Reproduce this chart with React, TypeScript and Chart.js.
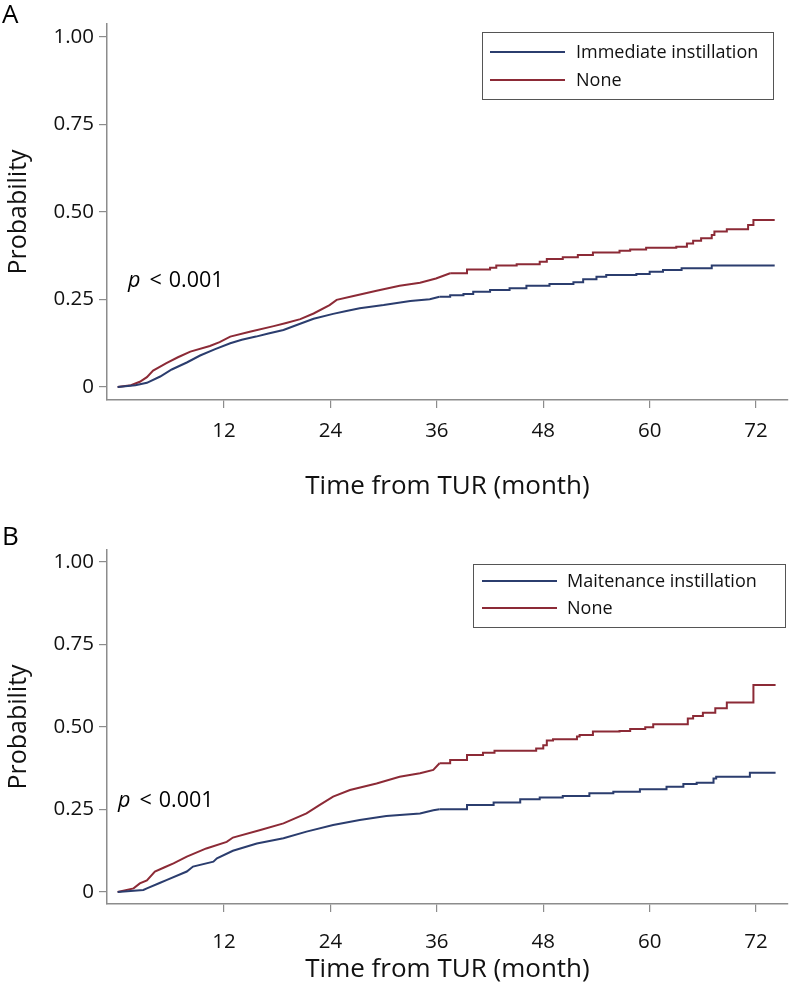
import React, { useEffect, useRef } from "react";
import { Chart, registerables } from "chart.js";
Chart.register(...registerables);

const FONT = '"Open Sans", "Noto Sans", sans-serif';
const BLUE = "#2b3d6e";
const RED = "#8c2a36";
const AXIS = "#8c8c8c";

const xTicks = [12, 24, 36, 48, 60, 72];
const yTicks = [0, 0.25, 0.5, 0.75, 1];
const xTitle = "Time from TUR (month)";
const yTitle = "Probability";
const pLess = "<";
const pValue = "0.001";

// Panel A
const aLabels = ["Immediate instillation", "None"];
const aImmT = [0, 2, 3.3, 4.8, 6.1, 7.8, 9.3, 11, 12.7, 14, 15.6, 17, 18.7, 20.2, 22.1, 24.3, 25.8, 27.3, 30, 33, 35.2, 36.3, 37.5, 39, 40.1, 42, 44.2, 46.1, 48.7, 51.4, 52.5, 54, 55.1, 58.5, 60, 61.5, 63.6, 67, 74.1];
const aImmP = [0, 0.005, 0.012, 0.03, 0.05, 0.07, 0.09, 0.108, 0.125, 0.135, 0.144, 0.153, 0.163, 0.177, 0.195, 0.209, 0.217, 0.225, 0.234, 0.246, 0.251, 0.258, 0.262, 0.266, 0.272, 0.277, 0.282, 0.289, 0.294, 0.299, 0.308, 0.315, 0.32, 0.323, 0.329, 0.334, 0.339, 0.347, 0.347];
const aNoneT = [0, 1.5, 2.5, 3.3, 4, 5.5, 6.8, 8.2, 10.4, 11.5, 12.7, 14.9, 17.6, 19, 20.6, 22.1, 23.9, 24.7, 26.6, 29.2, 31.8, 34.1, 35.9, 37.5, 39.4, 42, 42.7, 45, 47.6, 48.4, 50.2, 51.9, 53.6, 56.6, 57.8, 59.6, 63, 64.2, 64.9, 65.8, 67, 67.3, 68.7, 71.1, 71.7, 74.1];
const aNoneP = [0, 0.005, 0.015, 0.028, 0.047, 0.068, 0.085, 0.101, 0.117, 0.128, 0.144, 0.158, 0.174, 0.183, 0.194, 0.21, 0.234, 0.249, 0.26, 0.275, 0.289, 0.298, 0.31, 0.325, 0.336, 0.341, 0.347, 0.351, 0.358, 0.366, 0.371, 0.377, 0.384, 0.389, 0.393, 0.398, 0.401, 0.41, 0.418, 0.425, 0.434, 0.444, 0.451, 0.463, 0.477, 0.477];

// Panel B
const bLabels = ["Maitenance instillation", "None"];
const bMaiT = [0, 2.9, 3.3, 4.8, 5.5, 7.8, 8.5, 10.8, 11.2, 13, 15.7, 18.7, 21.3, 24.3, 27.3, 30.3, 34.1, 35.6, 36.3, 39.4, 42.4, 45.4, 47.6, 50.2, 53.2, 55.9, 58.9, 61.9, 63.8, 65.3, 67.2, 67.5, 71.3, 74.2];
const bMaiP = [0, 0.006, 0.011, 0.028, 0.036, 0.062, 0.077, 0.092, 0.102, 0.125, 0.147, 0.163, 0.183, 0.203, 0.218, 0.23, 0.238, 0.248, 0.251, 0.264, 0.271, 0.281, 0.286, 0.291, 0.299, 0.304, 0.311, 0.319, 0.327, 0.331, 0.344, 0.349, 0.361, 0.361];
const bNoneT = [0, 1.8, 2.5, 3.3, 4.2, 5.3, 6.3, 7.8, 10, 12.3, 13, 16.1, 18.7, 21.3, 22.8, 24.3, 26.2, 29.2, 31.8, 34.1, 35.6, 36.3, 37.5, 39.4, 41.2, 42.5, 47.2, 48, 48.4, 49.1, 51.8, 52.1, 53.6, 56.6, 57.8, 59.5, 60.4, 64.3, 64.9, 66, 67.4, 68.7, 71.7, 74.2];
const bNoneP = [0, 0.011, 0.026, 0.035, 0.062, 0.075, 0.087, 0.107, 0.132, 0.152, 0.165, 0.188, 0.208, 0.238, 0.264, 0.289, 0.309, 0.329, 0.349, 0.36, 0.37, 0.39, 0.4, 0.415, 0.422, 0.428, 0.435, 0.445, 0.459, 0.463, 0.471, 0.476, 0.486, 0.488, 0.494, 0.499, 0.508, 0.526, 0.533, 0.543, 0.557, 0.574, 0.627, 0.627];

// early part (dense tiny steps) drawn as a line, later part as visible steps
const SPLIT_T = 36;

const toXY = (t: number[], p: number[]) => t.map((v, i) => ({ x: v, y: p[i] }));

function seriesDatasets(label: string, t: number[], p: number[], color: string) {
  const all = toXY(t, p);
  const splitIdx = all.findIndex((d) => d.x >= SPLIT_T);
  const early = all.slice(0, splitIdx + 1);
  const late = all.slice(Math.max(splitIdx, 0));
  const base = { borderColor: color, borderWidth: 2, pointRadius: 0, fill: false, borderJoinStyle: "miter" };
  return [
    { ...base, label, data: early, stepped: false, showInLegend: true },
    { ...base, label, data: late, stepped: true, showInLegend: false },
  ];
}

const decorPlugin = {
  id: "decor",
  afterDraw(chart: any, _a: any, o: any) {
    const ctx = chart.ctx;
    ctx.save();
    ctx.fillStyle = "#000";
    ctx.textBaseline = "alphabetic";
    ctx.textAlign = "left";
    ctx.font = `26px ${FONT}`;
    ctx.fillText(o.letter, o.letterX, o.letterY);
    // p value
    let x = o.pX;
    ctx.font = `italic 21.5px ${FONT}`;
    ctx.fillText("p", x, o.pY);
    x += ctx.measureText("p").width + 9;
    ctx.font = `21.5px ${FONT}`;
    ctx.fillText(pLess, x, o.pY);
    x += ctx.measureText(pLess).width + 7;
    ctx.fillText(pValue, x, o.pY);
    // legend
    const L = o.legend;
    ctx.strokeStyle = "#555";
    ctx.lineWidth = 1;
    ctx.strokeRect(L.x + 0.5, L.y + 0.5, L.w, L.h);
    ctx.font = `18px ${FONT}`;
    ctx.textBaseline = "middle";
    const items = chart.data.datasets.filter((ds: any) => ds.showInLegend);
    items.forEach((ds: any, i: number) => {
      const y = L.y + L.row0 + i * L.rowGap;
      ctx.strokeStyle = ds.borderColor;
      ctx.lineWidth = 2;
      ctx.beginPath();
      ctx.moveTo(L.x + L.lineX0, y);
      ctx.lineTo(L.x + L.lineX1, y);
      ctx.stroke();
      ctx.fillStyle = "#111";
      ctx.fillText(ds.label, L.x + L.textX, y + 1);
    });
    ctx.restore();
  },
};

function makeConfig(p: any) {
  return {
    type: "line",
    data: {
      datasets: [
        ...seriesDatasets(p.labels[0], p.s1t, p.s1p, BLUE),
        ...seriesDatasets(p.labels[1], p.s2t, p.s2p, RED),
      ],
    },
    options: {
      animation: false,
      responsive: false,
      events: [],
      layout: { padding: { left: 0, right: 3, top: p.padTop, bottom: 0 } },
      plugins: {
        legend: { display: false },
        tooltip: { enabled: false },
        decor: p.decor,
      },
      scales: {
        x: {
          type: "linear",
          min: -1.2,
          max: 75.6,
          afterFit: (s: any) => { s.height = p.xAxisH; },
          afterBuildTicks: (s: any) => { s.ticks = xTicks.map((v) => ({ value: v })); },
          grid: { drawOnChartArea: false, drawTicks: true, tickLength: 8, color: AXIS, lineWidth: 1.2 },
          border: { display: true, color: AXIS, width: 1.5 },
          ticks: { color: "#111", font: { family: FONT, size: 20.5 }, padding: p.xTickPad, autoSkip: false, maxRotation: 0 },
          title: { display: true, text: xTitle, color: "#111", font: { family: FONT, size: 26, lineHeight: 1 }, padding: { top: 0, bottom: p.xTitlePad } },
        },
        y: {
          type: "linear",
          min: p.yMin,
          max: p.yMax,
          afterFit: (s: any) => { s.width = 107; },
          afterBuildTicks: (s: any) => { s.ticks = yTicks.map((v) => ({ value: v })); },
          grid: { drawOnChartArea: false, drawTicks: true, tickLength: 8, color: AXIS, lineWidth: 1.2 },
          border: { display: true, color: AXIS, width: 1.5 },
          ticks: { color: "#111", font: { family: FONT, size: 20.5 }, padding: 5, callback: (v: number) => (v === 0 ? "0" : v.toFixed(2)) },
          title: { display: true, text: yTitle, color: "#111", font: { family: FONT, size: 25, lineHeight: 1 }, padding: { top: 6, bottom: 0 } },
        },
      },
    },
    plugins: [decorPlugin],
  } as any;
}

function Panel({ top, height, params }: { top: number; height: number; params: any }) {
  const ref = useRef<HTMLCanvasElement>(null);
  useEffect(() => {
    const chart = new Chart(ref.current as HTMLCanvasElement, makeConfig(params));
    return () => chart.destroy();
  }, []);
  return (
    <canvas
      ref={ref}
      width={791}
      height={height}
      style={{ position: "absolute", left: 0, top, width: 791, height, display: "block" }}
    />
  );
}

const paramsA = {
  labels: aLabels,
  s1t: aImmT, s1p: aImmP, s2t: aNoneT, s2p: aNoneP,
  padTop: 24, xAxisH: 100, xTickPad: 11, xTitlePad: 0,
  yMin: -13 / 350, yMax: 1 + 13 / 350,
  decor: {
    letter: "A", letterX: 2, letterY: 23,
    pX: 128, pY: 287,
    legend: { x: 482, y: 32, w: 291, h: 67, row0: 20, rowGap: 28, lineX0: 8, lineX1: 83, textX: 94 },
  },
};

const paramsB = {
  labels: bLabels,
  s1t: bMaiT, s1p: bMaiP, s2t: bNoneT, s2p: bNoneP,
  padTop: 50, xAxisH: 88, xTickPad: 18, xTitlePad: 9,
  yMin: -12 / 330, yMax: 1 + 12 / 330,
  decor: {
    letter: "B", letterX: 2, letterY: 45,
    pX: 118, pY: 307,
    legend: { x: 473, y: 64, w: 312, h: 63, row0: 17, rowGap: 27, lineX0: 9, lineX1: 84, textX: 94 },
  },
};

export default function App() {
  return (
    <div style={{ position: "absolute", left: 0, top: 0, width: 791, height: 992, background: "#fff", overflow: "hidden" }}>
      <Panel top={0} height={500} params={paramsA} />
      <Panel top={500} height={492} params={paramsB} />
    </div>
  );
}
